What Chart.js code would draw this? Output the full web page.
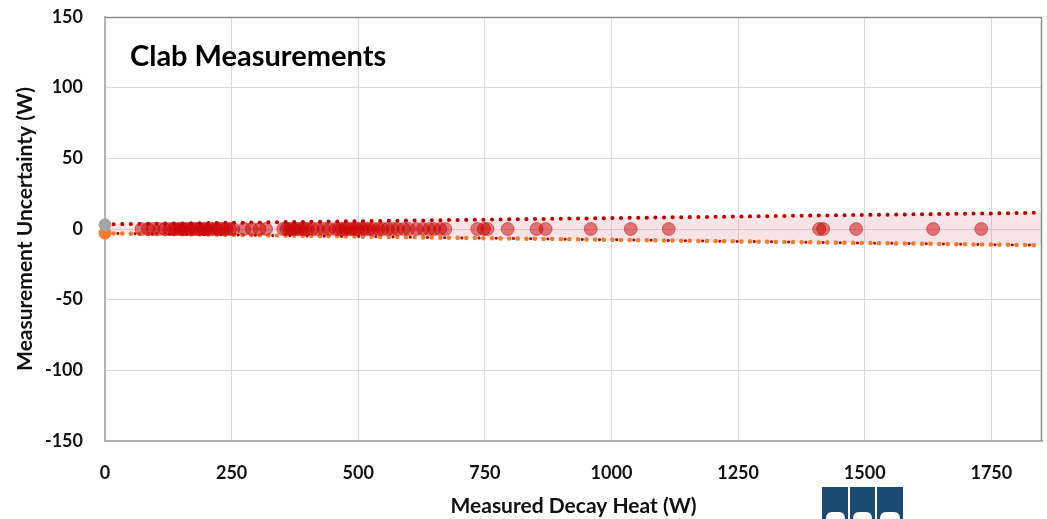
<!DOCTYPE html>
<html>
<head>
<meta charset="utf-8">
<script src="https://cdn.jsdelivr.net/npm/chart.js@4"></script>
<style>
  html, body { margin: 0; padding: 0; background: #fff; }
  #wrap { width: 1047px; height: 519px; position: relative; }
</style>
</head>
<body>
<div id="wrap"><canvas id="chart" width="1047" height="519"></canvas></div>
<script>
// measured decay heat (W) of each Clab measurement
const decayHeat = [
  72, 85, 95, 108, 118,
  128, 135, 140, 147, 152, 158, 163, 170, 176, 182, 188, 195, 200, 207, 213, 220, 226, 233, 240, 247, 253,
  275, 290, 305, 318,
  352, 358, 364, 370, 376, 382, 388, 395, 400,
  410, 420, 432, 442,
  455, 462, 468, 475, 482, 488, 495, 500,
  508, 515, 522, 530, 540, 548, 558, 568, 578, 590, 600,
  615, 628, 640, 650, 662, 672,
  735, 748, 755, 795, 852, 870, 959, 1038, 1113,
  1410, 1418, 1483, 1635, 1730
];
// measurement uncertainty (W) for the same points
const uncertainty = [
  0, 0, 0, 0, 0,
  0, 0, 0, 0, 0, 0, 0, 0, 0, 0, 0, 0, 0, 0, 0, 0, 0, 0, 0, 0, 0,
  0, 0, 0, 0,
  0, 0, 0, 0, 0, 0, 0, 0, 0,
  0, 0, 0, 0,
  0, 0, 0, 0, 0, 0, 0, 0,
  0, 0, 0, 0, 0, 0, 0, 0, 0, 0, 0,
  0, 0, 0, 0, 0, 0,
  0, 0, 0, 0, 0, 0, 0, 0, 0,
  0, 0, 0, 0, 0
];
// uncertainty band limits
const bandX = [0, 1850];
const upperBound = [3.3, 11.5];
const lowerBound = [-3.1, -11.5];
// reference markers at zero heat
const refGrayY = 3;
const refOrangeY = -3;

const xTicks = [0, 250, 500, 750, 1000, 1250, 1500, 1750];
const yTicks = [-150, -100, -50, 0, 50, 100, 150];

const FONT = 'Lato, "Open Sans", sans-serif';

const pts = (xs, ys) => xs.map((x, i) => ({ x, y: ys[i] }));

const decorations = {
  id: 'decorations',
  afterDraw(chart) {
    const { ctx, chartArea: a } = chart;
    ctx.save();
    // plot frame
    ctx.strokeStyle = '#8c8c8c';
    ctx.lineWidth = 1.5;
    ctx.beginPath();
    ctx.moveTo(a.left, a.top + 0.5);
    ctx.lineTo(a.right - 0.5, a.top + 0.5);
    ctx.lineTo(a.right - 0.5, a.bottom);
    ctx.stroke();
    // title inside plot
    ctx.fillStyle = '#000';
    ctx.font = 'bold 29px ' + FONT;
    ctx.textBaseline = 'middle';
    ctx.textAlign = 'left';
    ctx.fillText('Clab Measurements', a.left + 25, a.top + 40);
    // logo blocks at bottom
    ctx.fillStyle = '#1b4a73';
    [[822, 848], [850, 875], [877, 903]].forEach(([l, r]) => {
      ctx.fillRect(l, 487, r - l, 32);
    });
    ctx.fillStyle = '#fff';
    [[826, 845], [853, 872], [880, 900]].forEach(([l, r]) => {
      ctx.beginPath();
      ctx.moveTo(l, 519);
      ctx.quadraticCurveTo(l, 512, l + 6, 512);
      ctx.lineTo(r - 6, 512);
      ctx.quadraticCurveTo(r, 512, r, 519);
      ctx.closePath();
      ctx.fill();
    });
    ctx.restore();
  }
};

const tickFont = { family: FONT, size: 18, weight: 'bold' };
const titleFont = { family: FONT, size: 21, weight: 'bold' };

new Chart(document.getElementById('chart'), {
  type: 'scatter',
  data: {
    datasets: [
      {
        label: 'Measurements',
        data: pts(decayHeat, uncertainty),
        backgroundColor: 'rgba(204, 0, 0, 0.5)',
        borderColor: 'rgba(192, 0, 0, 0.45)',
        borderWidth: 1,
        pointRadius: 6.5,
        order: 0
      },
      {
        label: 'ref gray',
        data: [{ x: 0, y: refGrayY }],
        backgroundColor: '#a5a5a5',
        borderColor: '#a5a5a5',
        pointRadius: 6,
        clip: false,
        order: 1
      },
      {
        label: 'ref orange',
        data: [{ x: 0, y: refOrangeY }],
        backgroundColor: '#ed7d31',
        borderColor: '#ed7d31',
        pointRadius: 6,
        clip: false,
        order: 1
      },
      {
        label: 'upper',
        data: pts(bandX, upperBound),
        showLine: true,
        pointRadius: 0,
        borderColor: '#c00000',
        borderWidth: 4,
        borderDash: [0.1, 8.5],
        borderCapStyle: 'round',
        fill: { target: { value: 0 } },
        backgroundColor: 'rgba(224, 130, 140, 0.22)',
        order: 3
      },
      {
        label: 'lower orange',
        data: pts(bandX, lowerBound),
        showLine: true,
        pointRadius: 0,
        borderColor: '#ed7d31',
        borderWidth: 4.5,
        borderDash: [0.1, 8.5],
        borderCapStyle: 'round',
        fill: { target: { value: 0 } },
        backgroundColor: 'rgba(224, 130, 140, 0.22)',
        order: 3
      },
      {
        label: 'lower red',
        data: pts(bandX, lowerBound),
        showLine: true,
        pointRadius: 0,
        borderColor: '#c00000',
        borderWidth: 3,
        borderDash: [0.1, 17.1],
        borderDashOffset: 4.3,
        borderCapStyle: 'round',
        fill: false,
        order: 2
      }
    ]
  },
  plugins: [decorations],
  options: {
    responsive: false,
    animation: false,
    layout: { autoPadding: false, padding: { top: 17, right: 5, left: 0, bottom: 0 } },
    plugins: {
      legend: { display: false },
      tooltip: { enabled: false }
    },
    scales: {
      x: {
        type: 'linear',
        min: 0,
        max: 1850,
        afterFit(scale) {
          scale.height = 78;
          scale.paddingLeft = 0;
          scale.paddingRight = 0;
        },
        afterBuildTicks(scale) { scale.ticks = xTicks.map(v => ({ value: v })); },
        grid: { color: '#d9d9d9', lineWidth: 1, drawTicks: false },
        border: { color: '#b3b3b3', width: 2 },
        ticks: {
          padding: 21,
          color: '#111',
          font: tickFont,
          maxRotation: 0,
          callback: v => String(v)
        },
        title: {
          display: true,
          text: 'Measured Decay Heat (W)',
          color: '#111',
          font: titleFont,
          padding: { top: 0, bottom: 0 }
        }
      },
      y: {
        type: 'linear',
        min: -150,
        max: 150,
        afterFit(scale) {
          scale.width = 105;
          scale.paddingTop = 0;
          scale.paddingBottom = 0;
        },
        afterBuildTicks(scale) { scale.ticks = yTicks.map(v => ({ value: v })); },
        grid: { color: '#d9d9d9', lineWidth: 1, drawTicks: false },
        border: { color: '#b3b3b3', width: 2 },
        ticks: {
          padding: 22,
          color: '#111',
          font: tickFont,
          callback: v => String(v)
        },
        title: {
          display: true,
          text: 'Measurement Uncertainty (W)',
          color: '#111',
          font: titleFont,
          padding: { top: 13, bottom: 13 }
        }
      }
    }
  }
});
</script>
</body>
</html>
